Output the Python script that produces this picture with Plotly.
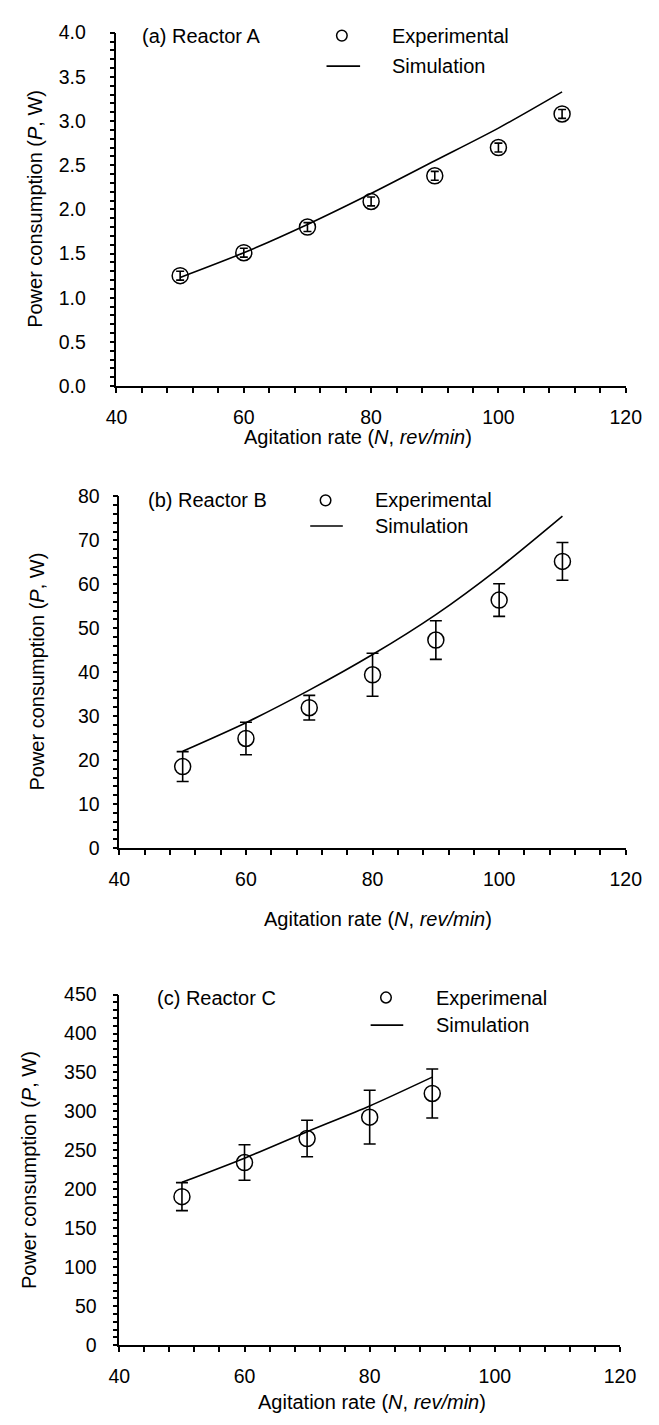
import plotly.graph_objects as go

# ---- data -------------------------------------------------------------
rate_ab = [50, 60, 70, 80, 90, 100, 110]
rate_c = [50, 60, 70, 80, 90]

exp_a = [1.25, 1.51, 1.80, 2.09, 2.38, 2.70, 3.08]
err_a = [0.05, 0.05, 0.05, 0.05, 0.05, 0.05, 0.05]
sim_a = [1.23, 1.51, 1.83, 2.18, 2.55, 2.92, 3.33]

exp_b = [18.5, 24.9, 31.9, 39.4, 47.3, 56.4, 65.2]
err_b = [3.4, 3.7, 2.8, 4.9, 4.4, 3.7, 4.3]
sim_b = [22.0, 28.5, 35.9, 44.0, 53.1, 63.7, 75.5]

exp_c = [190.6, 234.4, 265.2, 292.6, 323.0]
err_c = [18.0, 22.8, 23.5, 34.5, 31.5]
sim_c = [209, 240, 274, 307, 344]

W, H = 659, 1425
FONT = "Liberation Sans, Arial, sans-serif"


def px(x):
    return x / W


def py(y):
    return 1 - y / H


fig = go.Figure()

panels = [
    # (suffix, x, exp, err, sim, cap, x-domain px, y-domain px, y range, ydtick, yminor, fmt, ystandoff)
    ("", rate_ab, exp_a, err_a, sim_a, 4, (110, 641), (22, 381), (0, 4), 0.5, 0.1, ".1f", 20),
    ("2", rate_ab, exp_b, err_b, sim_b, 6, (113, 641), (493, 850), (0, 80), 10, 2, "d", 9),
    ("3", rate_c, exp_c, err_c, sim_c, 6, (113, 635), (999, 1355), (0, 450), 50, 10, "d", 12),
]

for sfx, xs, ex, er, sm, cap, xd, yd, yr, ydt, ymn, fmt, ystd in panels:
    xa, ya = "x" + sfx, "y" + sfx
    # smooth simulation curve
    fig.add_trace(go.Scatter(
        x=xs, y=sm, mode="lines", xaxis=xa, yaxis=ya, showlegend=False,
        line=dict(color="black", width=1.6, shape="spline", smoothing=0.8)))
    # measured values with error bars
    fig.add_trace(go.Scatter(
        x=xs, y=ex, mode="markers", xaxis=xa, yaxis=ya, showlegend=False,
        marker=dict(symbol="circle-open", size=16, color="black",
                    line=dict(color="black", width=1.5)),
        error_y=dict(type="data", array=er, color="black", thickness=1.6, width=cap)))

    axis_common = dict(
        showline=True, linecolor="black", linewidth=1.6, showgrid=False, zeroline=False,
        ticks="outside", ticklen=5, tickwidth=1.5, tickcolor="black",
        tickfont=dict(family=FONT, size=19.5, color="black"),
    )
    fig.layout["xaxis" + sfx] = dict(
        axis_common, domain=[px(xd[0]), px(xd[1])], anchor=ya, range=[40, 120],
        dtick=20, tick0=40, ticklabelstandoff=8,
        minor=dict(dtick=4, tick0=40, ticks="outside", ticklen=5, tickwidth=1.5, tickcolor="black"),
    )
    fig.layout["yaxis" + sfx] = dict(
        axis_common, domain=[py(yd[1]), py(yd[0])], anchor=xa, range=list(yr),
        dtick=ydt, tick0=0, tickformat=fmt, ticklabelstandoff=ystd,
        minor=dict(dtick=ymn, tick0=0, ticks="outside", ticklen=5, tickwidth=1.5, tickcolor="black"),
    )

annotations = []
shapes = []


def text(x, y, s, anchor="left", angle=0, size=20):
    annotations.append(dict(
        x=px(x), y=py(y), xref="paper", yref="paper", text=s, showarrow=False,
        xanchor=anchor, yanchor="middle", textangle=angle,
        font=dict(family=FONT, size=size, color="black")))


xtitle = "Agitation rate (<i>N</i>, <i>rev/min</i>)"
ytitle = "Power consumption (<i>P</i>, W)"

# panel titles, axis titles and key entries
keys = [
    # label, label x, label y, key marker x, key text x, exp text, sim y, line x0, line x1, xtitle x, xtitle y, ytitle x, ytitle y
    ("(a) Reactor A", 134, 25, 345, 395, "Experimental", 56, 329, 364, 362, 433, 25, 201),
    ("(b) Reactor B", 141, 497, 328, 377, "Experimental", 523, 312, 346, 383, 922, 27, 671),
    ("(c) Reactor C", 150, 1002, 391, 441, "Experimenal", 1030, 375, 409, 376, 1413, 19, 1177),
]
for lab, lx, ly, mx, tx, etxt, sy, l0, l1, xtx, xty, ytx, yty in keys:
    text(lx, ly, lab)
    text(tx, ly, etxt)
    text(tx, sy, "Simulation")
    text(xtx, xty, xtitle, anchor="center")
    text(ytx, yty, ytitle, anchor="center", angle=-90)
    r = 5.5
    shapes.append(dict(type="circle", xref="paper", yref="paper",
                       x0=px(mx - r), x1=px(mx + r), y0=py(ly + r), y1=py(ly - r),
                       line=dict(color="black", width=1.5)))
    shapes.append(dict(type="line", xref="paper", yref="paper",
                       x0=px(l0), x1=px(l1), y0=py(sy), y1=py(sy),
                       line=dict(color="black", width=1.6)))

fig.update_layout(
    width=W, height=H, margin=dict(l=0, r=0, t=0, b=0),
    paper_bgcolor="white", plot_bgcolor="white",
    annotations=annotations, shapes=shapes, showlegend=False,
    font=dict(family=FONT, color="black"),
)

fig.write_html("out.html")
